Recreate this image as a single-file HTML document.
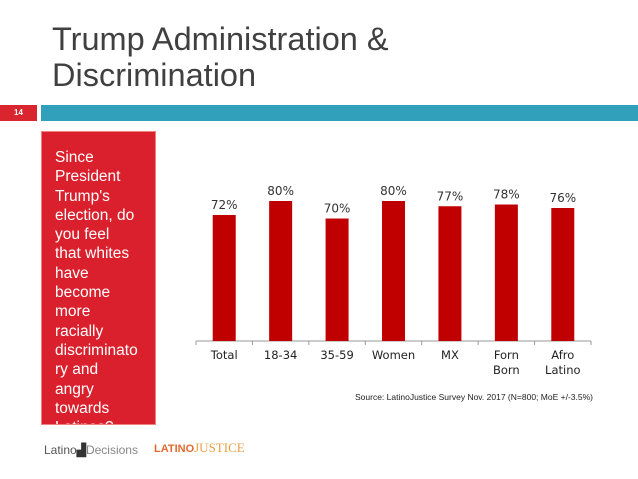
<!DOCTYPE html>
<html><head><meta charset="utf-8"><style>
body{margin:0;width:638px;height:479px;background:#fff;overflow:hidden;position:relative;font-family:"Liberation Sans",sans-serif}
.abs{position:absolute}
</style></head><body>
<div class="abs" style="left:52px;top:21px;font-size:32.5px;line-height:36px;color:#404040">Trump Administration &amp;<br>Discrimination</div>
<div class="abs" style="left:0;top:105px;width:37px;height:16px;background:#d9252e;color:#fff;font-size:8px;font-weight:bold;line-height:16px;text-align:center">14</div>
<div class="abs" style="left:41px;top:105px;width:597px;height:16px;background:#31a0bb"></div>
<div class="abs" style="left:41px;top:131px;width:113px;height:292px;background:#d9202c;border:1px solid #f08080;overflow:hidden">
<div style="margin:16px 0 0 13px;color:#fff;font-size:15.5px;line-height:19.3px">Since<br>President<br>Trump's<br>election, do<br>you feel<br>that whites<br>have<br>become<br>more<br>racially<br>discriminato<br>ry and<br>angry<br>towards<br>Latinos?</div></div>
<svg class="abs" style="left:0;top:0" width="638" height="479" id="chart"></svg>
<div class="abs" style="left:355px;top:392px;font-size:8.5px;color:#222">Source: LatinoJustice Survey Nov. 2017 (N=800; MoE +/-3.5%)</div>
<div class="abs" style="left:44px;top:443px;font-size:12px;color:#555">Latino<b style="color:#333">▟</b><span style="color:#888">Decisions</span></div>
<div class="abs" style="left:154px;top:440px;font-size:13px;color:#e8a040;font-family:'Liberation Serif',serif"><b style="font-family:'Liberation Sans',sans-serif;font-size:11px;color:#e06a30">LATINO</b>JUSTICE</div>
<script>
const categories=["Total","18-34","35-59","Women","MX","Forn\nBorn","Afro\nLatino"];
const values=[72,80,70,80,77,78,76];
const labels=["72%","80%","70%","80%","77%","78%","76%"];
const svg=document.getElementById('chart');const NS='http://www.w3.org/2000/svg';
const x0=196,x1=591,base=341,pxPer=1.75,bw=23;
const step=(x1-x0)/categories.length;
const xc=i=>x0+step*(i+0.5);const yv=v=>base-v*pxPer;
function mk(t,a){const e=document.createElementNS(NS,t);for(const k in a)e.setAttribute(k,a[k]);svg.appendChild(e);return e;}
const ax=mk('line',{x1:x0,x2:x1,y1:base,y2:base,stroke:'#999','stroke-width':1});


for(let i=0;i<=categories.length;i++){const t=mk('line',{x1:x0+step*i,x2:x0+step*i,y1:base,y2:base+4,stroke:'#999'});

}
values.forEach((v,i)=>{
const r=mk('rect',{x:xc(i)-bw/2,y:yv(v),width:bw,height:v*pxPer,fill:'#c00000'});


const l=mk('text',{x:xc(i),y:yv(v)-6,'text-anchor':'middle','font-size':'12','fill':'#333','font-family':'DejaVu Sans, sans-serif'});l.textContent=labels[i];


categories[i].split('\n').forEach((s,j)=>{const c=mk('text',{x:xc(i),y:base+18+j*15,'text-anchor':'middle','font-size':'11.5','fill':'#222','font-family':'DejaVu Sans, sans-serif'});c.textContent=s;

});
});
</script>
</body></html>
